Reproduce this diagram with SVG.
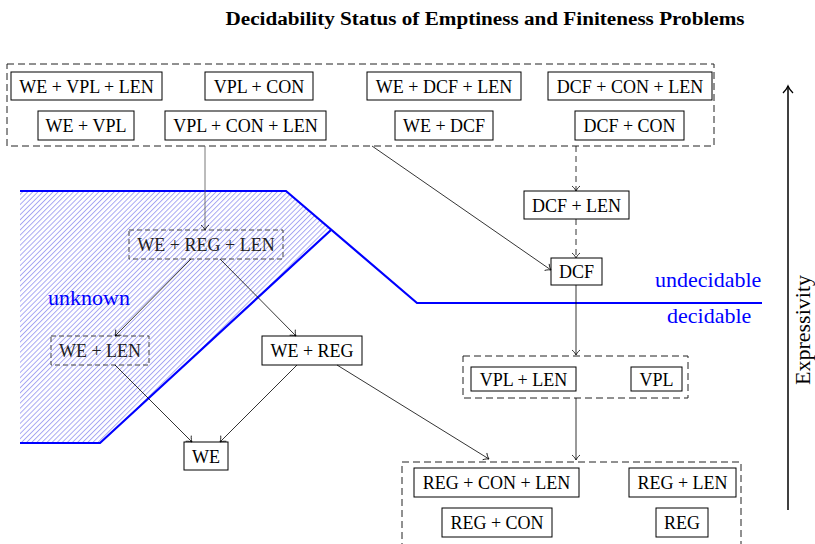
<svg xmlns="http://www.w3.org/2000/svg" width="815" height="544" viewBox="0 0 815 544">
<style>
text{font-family:"Liberation Serif","Times New Roman",serif;fill:#000}
.n{font-size:18px;text-anchor:middle}
.box{fill:none;stroke:#000;stroke-width:1}
.dbox{fill:none;stroke:#444;stroke-width:1;stroke-dasharray:5 3}
.grp{fill:none;stroke:#222;stroke-width:1;stroke-dasharray:7 4}
.gt{fill:#222}
.c{fill:none;stroke:#000;stroke-width:0.8;marker-end:url(#ah)}
.cd{stroke-dasharray:6 4}
.cg{stroke:#555}
.blue{fill:none;stroke:#0000ff;stroke-width:2.2}
.bl{font-size:22px;fill:#0000ff}
</style>
<defs>
<marker id="ah" viewBox="-6 -5 8 10" refX="0" refY="0" markerWidth="8" markerHeight="10" markerUnits="userSpaceOnUse" orient="auto">
<path d="M-5,-4 C-3,-1.5 -1,-0.5 0,0 C-1,0.5 -3,1.5 -5,4" fill="none" stroke="#000" stroke-width="0.8"/>
</marker>
<marker id="ah2" viewBox="-8 -6 10 12" refX="0" refY="0" markerWidth="10" markerHeight="12" markerUnits="userSpaceOnUse" orient="auto">
<path d="M-7,-5 C-4,-2 -1.5,-0.6 0,0 C-1.5,0.6 -4,2 -7,5" fill="none" stroke="#000" stroke-width="1.3"/>
</marker>
<pattern id="hatch" width="3.6" height="3.6" patternUnits="userSpaceOnUse" patternTransform="rotate(45)">
<line x1="0.5" y1="0" x2="0.5" y2="3.6" stroke="#a0a0f2" stroke-width="0.9"/>
</pattern>
</defs>

<text x="485" y="25" font-size="18" font-weight="bold" text-anchor="middle" textLength="519" lengthAdjust="spacingAndGlyphs">Decidability Status of Emptiness and Finiteness Problems</text>

<g id="regions">
<polygon points="20,191 286,191 331,230 100,443 20,443" fill="url(#hatch)" stroke="none"/>
<polyline class="blue" points="20,191 286,191 417,303 762,303"/>
<polyline class="blue" points="20,443 100,443 331,230"/>
<text class="bl" x="48" y="305">unknown</text>
<text class="bl" x="655" y="287">undecidable</text>
<text class="bl" x="667" y="323">decidable</text>
</g>

<g id="top-group">
<rect class="grp" x="7" y="64" width="707" height="82"/>
</g>
<g id="n-we-vpl-len"><rect class="box" x="11" y="72" width="151" height="28"/><text class="n" x="86.5" y="93">WE + VPL + LEN</text></g>
<g id="n-vpl-con"><rect class="box" x="205" y="72" width="108" height="28"/><text class="n" x="259" y="93">VPL + CON</text></g>
<g id="n-we-dcf-len"><rect class="box" x="367" y="72" width="154" height="28"/><text class="n" x="444" y="93">WE + DCF + LEN</text></g>
<g id="n-dcf-con-len"><rect class="box" x="548" y="72" width="164" height="28"/><text class="n" x="630" y="93">DCF + CON + LEN</text></g>
<g id="n-we-vpl"><rect class="box" x="38" y="111" width="96" height="29"/><text class="n" x="86" y="132">WE + VPL</text></g>
<g id="n-vpl-con-len"><rect class="box" x="165" y="111" width="161" height="29"/><text class="n" x="245.5" y="132">VPL + CON + LEN</text></g>
<g id="n-we-dcf"><rect class="box" x="395" y="111" width="98" height="29"/><text class="n" x="444" y="132">WE + DCF</text></g>
<g id="n-dcf-con"><rect class="box" x="575" y="111" width="109" height="29"/><text class="n" x="629.5" y="132">DCF + CON</text></g>

<g id="n-dcf-len"><rect class="box" x="524" y="191" width="105" height="28"/><text class="n" x="576.5" y="212">DCF + LEN</text></g>
<g id="n-dcf"><rect class="box" x="551" y="258" width="51" height="27"/><text class="n" x="576.5" y="278">DCF</text></g>

<g id="n-we-reg-len"><rect class="dbox" x="129" y="230" width="154" height="29"/><text class="n gt" x="206" y="251">WE + REG + LEN</text></g>
<g id="n-we-len"><rect class="dbox" x="51" y="336" width="98" height="29"/><text class="n gt" x="100" y="357">WE + LEN</text></g>
<g id="n-we-reg"><rect class="box" x="262" y="336" width="100" height="29"/><text class="n" x="312" y="357">WE + REG</text></g>
<g id="n-we"><rect class="box" x="184" y="442" width="44" height="28"/><text class="n" x="206" y="463">WE</text></g>

<g id="vpl-group">
<rect class="grp" x="463" y="356" width="225" height="42"/>
</g>
<g id="n-vpl-len"><rect class="box" x="471" y="367" width="105" height="24"/><text class="n" x="523.5" y="386">VPL + LEN</text></g>
<g id="n-vpl"><rect class="box" x="631" y="367" width="51" height="24"/><text class="n" x="656.5" y="386">VPL</text></g>

<g id="reg-group">
<rect class="grp" x="402" y="462" width="339" height="90"/>
</g>
<g id="n-reg-con-len"><rect class="box" x="414" y="468" width="165" height="29"/><text class="n" x="496.5" y="489">REG + CON + LEN</text></g>
<g id="n-reg-len"><rect class="box" x="629" y="468" width="107" height="29"/><text class="n" x="682.5" y="489">REG + LEN</text></g>
<g id="n-reg-con"><rect class="box" x="442" y="508" width="110" height="29"/><text class="n" x="497" y="529">REG + CON</text></g>
<g id="n-reg"><rect class="box" x="656" y="508" width="52" height="29"/><text class="n" x="682" y="529">REG</text></g>

<g id="connectors">
<line class="c cg" x1="205" y1="146" x2="205" y2="230"/>
<line class="c" x1="372" y1="146" x2="551" y2="270"/>
<line class="c cd" x1="576" y1="146" x2="576" y2="191"/>
<line class="c cd" x1="576" y1="219" x2="576" y2="258"/>
<line class="c" x1="576" y1="285" x2="576" y2="355"/>
<line class="c" x1="576" y1="398" x2="576" y2="460"/>
<line class="c" x1="191" y1="259" x2="115" y2="336"/>
<line class="c" x1="220" y1="259" x2="296" y2="336"/>
<line class="c" x1="115" y1="365" x2="192" y2="442"/>
<line class="c" x1="297" y1="365" x2="220" y2="442"/>
<line class="c" x1="337" y1="365" x2="489" y2="459"/>
</g>

<g id="expressivity">
<line x1="788" y1="510" x2="788" y2="86" stroke="#000" stroke-width="1.5" marker-end="url(#ah2)"/>
<text x="810" y="330" font-size="22" text-anchor="middle" transform="rotate(-90 810 330)">Expressivity</text>
</g>
</svg>
